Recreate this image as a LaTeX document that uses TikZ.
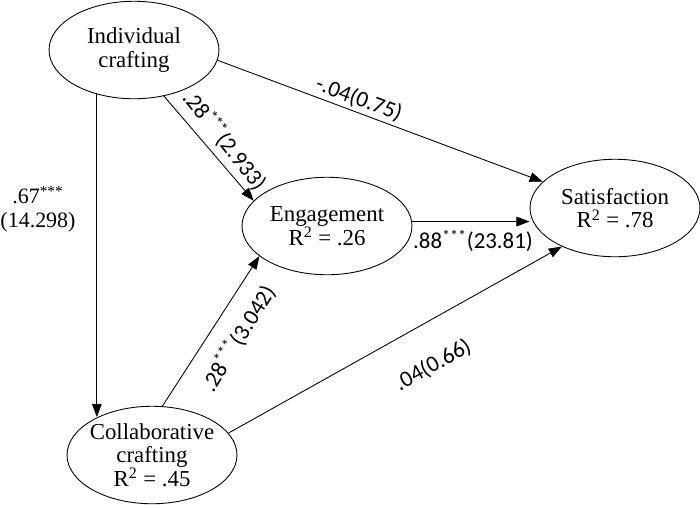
\documentclass[tikz,border=0pt]{standalone}
\usepackage{fontspec}
\setmainfont{Liberation Serif}
\newfontfamily\labelfont{Carlito}
\usetikzlibrary{arrows.meta, shapes.geometric}
\tikzset{
    construct/.style = {draw, ellipse, line width = 0.5pt, inner xsep = -3pt, inner ysep = 0pt,
        minimum width = 3.4cm, minimum height = 1.95cm, align = center,
        font = \fontsize{13}{13.5}\selectfont},
    pathline/.style = {line width = 0.5pt, -{Triangle[length = 7.5pt, width = 5.5pt]}},
    coef/.style = {inner sep = 0pt, font = \labelfont\fontsize{13}{14}\selectfont}
}
\begin{document}
\begin{tikzpicture}[x = 0.02cm, y = -0.02cm]
        \useasboundingbox (0, 0) rectangle (700, 505);
        \node[construct] (ind) at (134, 50) {Individual\\crafting};
        \node[construct] (eng) at (327, 226) {Engagement\\R\textsuperscript{2} = .26};
        \node[construct] (sat) at (615, 208) {Satisfaction\\R\textsuperscript{2} = .78};
        \node[construct] (coll) at (152, 455) {Collaborative\\crafting\\R\textsuperscript{2} = .45};
        \draw[pathline] (ind.230) -- (coll.145 -| ind.230);
        \draw[pathline] (ind.303) -- (eng.161);
        \draw[pathline] (ind.353) -- (sat.160);
        \draw[pathline] (eng.3) -- (eng.3 -| sat.west);
        \draw[pathline] (coll.78) -- (eng.204);
        \draw[pathline] (coll.16) -- (sat.216);
        \node[align = center, inner sep = 0pt, font = \fontsize{12.5}{13.5}\selectfont] (lblIndColl) at (38, 209) {.67\textsuperscript{***}\\(14.298)};
        \node[coef, rotate = -51.5] (lblIndEng) at (225, 140) {.28\textsuperscript{***}(2.933)};
        \node[coef, rotate = -20.5] (lblIndSat) at (359, 99) {-.04(0.75)};
        \node[coef] (lblEngSat) at (473, 241) {.88\textsuperscript{***}(23.81)};
        \node[coef, rotate = 58.3] (lblCollEng) at (238, 338) {.28\textsuperscript{***}(3.042)};
        \node[coef, rotate = 29] (lblCollSat) at (433, 365) {.04(0.66)};
    \end{tikzpicture}
\end{document}
